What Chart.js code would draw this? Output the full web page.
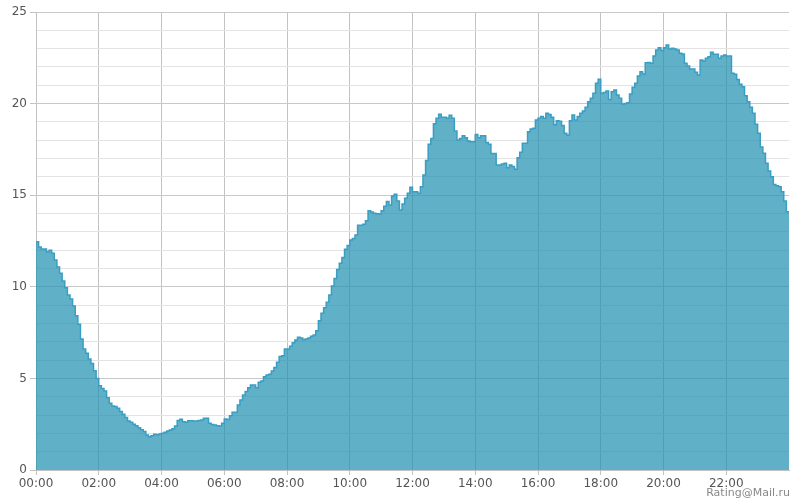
<!DOCTYPE html>
<html>
<head>
<meta charset="utf-8">
<script src="https://cdn.jsdelivr.net/npm/chart.js@4.4.1/dist/chart.umd.min.js"></script>
<style>
  body { margin: 0; background: #fff; }
  #wrap { position: relative; width: 800px; height: 503px; }
  #credit {
    position: absolute; right: 10px; top: 486px;
    font: 11px "DejaVu Sans", sans-serif; line-height: 13px; color: #888;
  }
</style>
</head>
<body>
<div id="wrap">
  <canvas id="chart" width="800" height="503"></canvas>
  <div id="credit">Rating@Mail.ru</div>
</div>
<script>
// Значения по 5 минут, блоками по 4 часа
const night = [12.46, 12.17, 12.06, 12.06, 11.92, 12.0, 11.83, 11.46, 11.08, 10.74, 10.32, 9.95,
  9.55, 9.33, 8.95, 8.42, 7.95, 7.15, 6.6, 6.37, 6.06, 5.82, 5.42, 5.0,
  4.6, 4.45, 4.31, 3.95, 3.64, 3.5, 3.46, 3.37, 3.2, 3.04, 2.86, 2.67,
  2.6, 2.5, 2.42, 2.3, 2.2, 2.1, 1.91, 1.82, 1.87, 1.95, 1.92, 1.97];
const morning = [2.0, 2.06, 2.13, 2.18, 2.25, 2.4, 2.7, 2.77, 2.64, 2.6, 2.69, 2.69,
  2.67, 2.67, 2.7, 2.73, 2.82, 2.82, 2.55, 2.49, 2.46, 2.42, 2.4, 2.55,
  2.78, 2.75, 2.96, 3.15, 3.15, 3.55, 3.82, 4.09, 4.28, 4.49, 4.64, 4.64,
  4.49, 4.79, 4.86, 5.09, 5.19, 5.22, 5.4, 5.59, 5.88, 6.19, 6.24, 6.6];
const dayA = [6.6, 6.75, 6.95, 7.1, 7.25, 7.2, 7.12, 7.15, 7.2, 7.3, 7.37, 7.6,
  8.15, 8.55, 8.85, 9.15, 9.55, 10.05, 10.45, 10.95, 11.28, 11.6, 12.05, 12.25,
  12.55, 12.63, 12.83, 13.36, 13.36, 13.41, 13.6, 14.15, 14.08, 14.01, 13.99, 13.97,
  14.15, 14.4, 14.65, 14.47, 14.95, 15.05, 14.68, 14.19, 14.52, 14.83, 15.1, 15.43];
const dayB = [15.19, 15.19, 15.1, 15.46, 16.1, 16.9, 17.78, 18.1, 18.9, 19.2, 19.42, 19.25,
  19.25, 19.2, 19.36, 19.2, 18.5, 18.01, 18.1, 18.25, 18.14, 17.96, 17.92, 17.92,
  18.32, 18.14, 18.25, 18.25, 17.88, 17.78, 17.27, 17.27, 16.65, 16.65, 16.7, 16.74,
  16.5, 16.65, 16.56, 16.41, 17.05, 17.34, 17.83, 17.83, 18.47, 18.61, 18.65, 19.1];
const evening = [19.2, 19.29, 19.2, 19.47, 19.4, 19.25, 18.85, 19.07, 19.04, 18.8, 18.38, 18.29,
  19.07, 19.38, 19.1, 19.29, 19.47, 19.6, 19.8, 20.1, 20.29, 20.56, 21.11, 21.33,
  20.56, 20.6, 20.69, 20.23, 20.65, 20.74, 20.47, 20.29, 19.98, 20.0, 20.05, 20.52,
  20.89, 21.11, 21.51, 21.74, 21.62, 22.23, 22.25, 22.2, 22.6, 22.93, 23.05, 22.9];
const late = [23.05, 23.2, 22.98, 23.02, 22.98, 22.93, 22.75, 22.71, 22.2, 22.05, 21.89, 21.89,
  21.71, 21.56, 22.38, 22.33, 22.47, 22.56, 22.8, 22.69, 22.69, 22.47, 22.6, 22.65,
  22.6, 22.6, 21.65, 21.6, 21.32, 21.05, 20.92, 20.43, 20.1, 19.8, 19.47, 18.87,
  18.38, 17.63, 17.29, 16.74, 16.32, 16.01, 15.59, 15.52, 15.46, 15.19, 14.68, 14.1];

const xTickLabels = ['00:00', '02:00', '04:00', '06:00', '08:00', '10:00',
  '12:00', '14:00', '16:00', '18:00', '20:00', '22:00'];

const values = [].concat(night, morning, dayA, dayB, evening, late);

// точки: x в часах (шаг 5 минут), последняя точка закрывает ступеньку в 24:00
const points = values.map((v, i) => ({ x: i / 12, y: v }));
points.push({ x: 24, y: values[values.length - 1] });

const font = { family: '"DejaVu Sans", sans-serif', size: 12 };

new Chart(document.getElementById('chart'), {
  type: 'line',
  data: {
    datasets: [{
      data: points,
      stepped: 'before',
      fill: 'origin',
      backgroundColor: 'rgba(35, 145, 178, 0.72)',
      borderColor: '#3a9ec2',
      borderWidth: 1.5,
      pointRadius: 0
    }]
  },
  options: {
    responsive: false,
    animation: false,
    layout: { padding: { top: 12, right: 11, left: 0, bottom: 0 } },
    plugins: { legend: { display: false }, tooltip: { enabled: false } },
    scales: {
      x: {
        type: 'linear',
        min: 0,
        max: 24,
        afterFit: scale => { scale.height = 33; },
        ticks: {
          stepSize: 2,
          autoSkip: false,
          maxRotation: 0,
          padding: 2,
          color: '#555',
          font: font,
          callback: v => xTickLabels[v / 2] || ''
        },
        grid: {
          color: ctx => ctx.tick && ctx.tick.value === 24 ? 'transparent' : '#c3c3c3',
          tickColor: ctx => ctx.tick && ctx.tick.value === 24 ? 'transparent' : '#c3c3c3',
          tickLength: 5
        },
        border: { color: '#c3c3c3' }
      },
      y: {
        min: 0,
        max: 25,
        afterFit: scale => { scale.width = 36; },
        ticks: {
          stepSize: 1,
          padding: 3,
          color: '#555',
          font: font,
          callback: v => v % 5 === 0 ? v : ''
        },
        grid: {
          color: ctx => ctx.tick.value % 5 === 0 ? '#c8c8c8' : '#e3e3e3',
          tickColor: ctx => ctx.tick.value % 5 === 0 ? '#c3c3c3' : 'transparent',
          tickLength: 6
        },
        border: { color: '#c3c3c3' }
      }
    }
  }
});
</script>
</body>
</html>
